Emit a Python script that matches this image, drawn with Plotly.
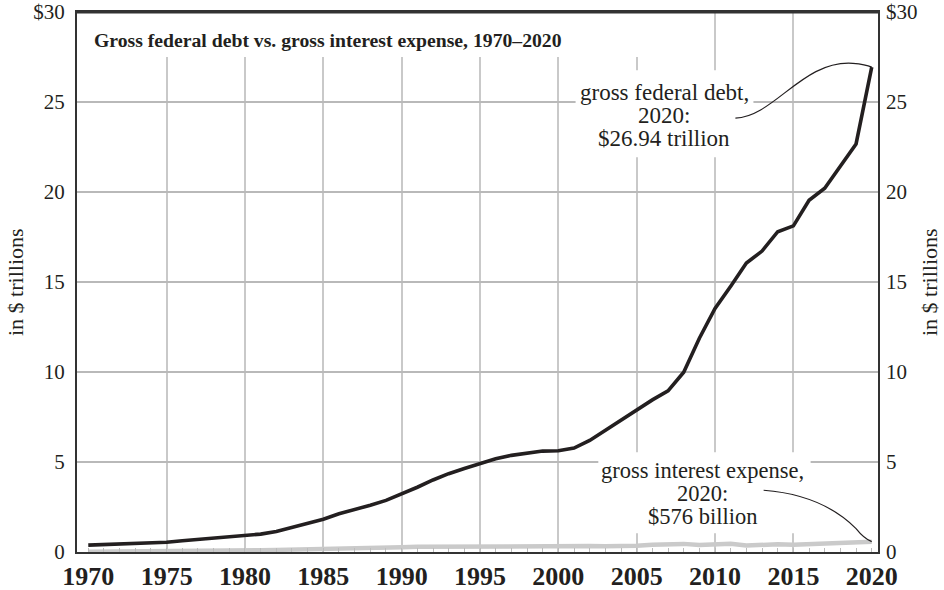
import plotly.graph_objects as go

years = list(range(1970, 2021))
gross_debt = [0.381, 0.408, 0.436, 0.466, 0.484, 0.542, 0.629, 0.706, 0.777, 0.829,
              0.909, 0.995, 1.137, 1.372, 1.565, 1.817, 2.121, 2.346, 2.601, 2.868,
              3.206, 3.598, 4.002, 4.351, 4.643, 4.921, 5.181, 5.369, 5.478, 5.606,
              5.629, 5.770, 6.198, 6.760, 7.355, 7.905, 8.451, 8.951, 9.986, 11.876,
              13.529, 14.764, 16.051, 16.719, 17.794, 18.120, 19.539, 20.206, 21.462, 22.669,
              26.94]
interest = [0.019, 0.021, 0.022, 0.025, 0.030, 0.033, 0.038, 0.042, 0.049, 0.060,
            0.075, 0.096, 0.117, 0.129, 0.153, 0.179, 0.190, 0.195, 0.214, 0.241,
            0.264, 0.286, 0.292, 0.293, 0.296, 0.332, 0.344, 0.356, 0.363, 0.354,
            0.362, 0.359, 0.333, 0.318, 0.322, 0.352, 0.406, 0.430, 0.451, 0.383,
            0.414, 0.454, 0.359, 0.416, 0.430, 0.402, 0.433, 0.459, 0.523, 0.574,
            0.576]
x_tick_vals = list(range(1970, 2021, 5))
x_tick_text = [str(v) for v in x_tick_vals]
y_tick_vals = [0, 5, 10, 15, 20, 25, 30]
y_tick_text = ["0", "5", "10", "15", "20", "25", "$30"]
debt_label = ["gross federal debt,", "2020:", "$%.2f trillion" % gross_debt[-1]]
interest_label = ["gross interest expense,", "2020:", "$%d billion" % round(interest[-1] * 1000)]

SERIF = "Liberation Serif"
INK = "#231f20"

fig = go.Figure()
fig.add_trace(go.Scatter(x=years, y=interest, mode="lines",
                         line=dict(color="#cacaca", width=4.5), showlegend=False, hoverinfo="skip"))
fig.add_trace(go.Scatter(x=years, y=gross_debt, mode="lines",
                         line=dict(color=INK, width=3.6), showlegend=False))
fig.add_trace(go.Scatter(x=years, y=gross_debt, yaxis="y2", xaxis="x2", mode="lines",
                         line=dict(width=0), opacity=0, showlegend=False, hoverinfo="skip"))

xr = [1969.28, 2020.4]
yr = [0, 30]

fig.update_layout(
    width=944, height=590,
    margin=dict(l=77, r=66, t=12, b=38),
    paper_bgcolor="white", plot_bgcolor="white",
    font=dict(family=SERIF, color=INK),
    xaxis=dict(range=xr, tickvals=x_tick_vals, ticktext=x_tick_text, showgrid=False,
               tickfont=dict(family=SERIF, size=26, color=INK, weight="bold"),
               showline=True, linecolor="#333333", linewidth=2, mirror=True,
               ticks="", zeroline=False, automargin=False, ticklabelstandoff=0,
               minor=dict(tickvals=list(range(1975, 2016, 5)), showgrid=True,
                          gridcolor="#c9c9c9", gridwidth=1.5, ticks="")),
    xaxis2=dict(range=xr, overlaying="x", side="bottom", anchor="y",
                tickvals=years, ticks="inside", ticklen=4, tickcolor="#bbbbbb",
                showticklabels=False, showgrid=False, zeroline=False, automargin=False),
    yaxis=dict(range=yr, tickvals=y_tick_vals, ticktext=y_tick_text,
               tickfont=dict(family=SERIF, size=21, color=INK),
               showgrid=True, gridcolor="#b9b9b9", gridwidth=1.5,
               showline=True, linecolor="#333333", linewidth=2, mirror=True,
               zeroline=False, ticks="", ticklabelstandoff=6, automargin=False),
    yaxis2=dict(range=yr, overlaying="y", side="right", anchor="x",
                tickvals=y_tick_vals, ticktext=y_tick_text,
                tickfont=dict(family=SERIF, size=21, color=INK),
                showgrid=False, zeroline=False, ticks="", ticklabelstandoff=7,
                automargin=False),
)

# y-axis titles on both sides
for xp in (-62 / 801, 1 + 51 / 801):
    fig.add_annotation(xref="paper", yref="paper", x=xp, y=0.5, xanchor="center", yanchor="middle",
                       text="in $ trillions", textangle=-90, showarrow=False,
                       font=dict(family=SERIF, size=22, color=INK))

# white boxes behind the in-chart texts (hide gridlines, stay under the lines)
for x0, x1, y0, y1 in ((1969.4, 2009.3, 27.5, 30), (2001.1, 2012.45, 21.93, 26.76),
                       (2002.55, 2016.1, 1.04, 5.54)):
    fig.add_shape(type="rect", xref="x", yref="y", x0=x0, x1=x1, y0=y0, y1=y1,
                  fillcolor="white", line=dict(width=0), layer="between")
# heavy top rule
fig.add_shape(type="line", xref="paper", yref="paper", x0=0, x1=1, y0=1, y1=1,
              line=dict(color="#333333", width=3))

fig.add_annotation(xref="paper", yref="y", x=15 / 801, y=28.45, xanchor="left", yanchor="middle",
                   text="<b>Gross federal debt vs. gross interest expense, 1970–2020</b>",
                   showarrow=False, font=dict(family=SERIF, size=19.7, color=INK))

for txt, yy in zip(debt_label, (25.55, 24.25, 22.95)):
    fig.add_annotation(xref="x", yref="y", x=2006.75, y=yy, xanchor="center", yanchor="middle",
                       text=txt, showarrow=False, font=dict(family=SERIF, size=23, color=INK))
for txt, yy in zip(interest_label, (4.55, 3.25, 1.95)):
    fig.add_annotation(xref="x", yref="y", x=2009.2, y=yy, xanchor="center", yanchor="middle",
                       text=txt, showarrow=False, font=dict(family=SERIF, size=22.5, color=INK))

xe, yd, yi = years[-1], gross_debt[-1], interest[-1]
fig.add_shape(type="path", xref="x", yref="y",
              path=f"M 2011.3,24.1 C 2013.8,24.2 2015.6,27.35 2018.8,27.15 Q 2019.6,27.1 {xe},{yd}",
              line=dict(color=INK, width=1.2))
fig.add_shape(type="path", xref="x", yref="y",
              path=f"M 2013.1,3.43 C 2016.5,3.2 2018.2,2.0 2019.0,1.3 Q 2019.5,0.75 {xe},{yi}",
              line=dict(color=INK, width=1.2))

fig.write_html("out.html", config={"displayModeBar": False},
               post_script="document.body.style.margin='0';document.body.style.overflow='hidden';")
